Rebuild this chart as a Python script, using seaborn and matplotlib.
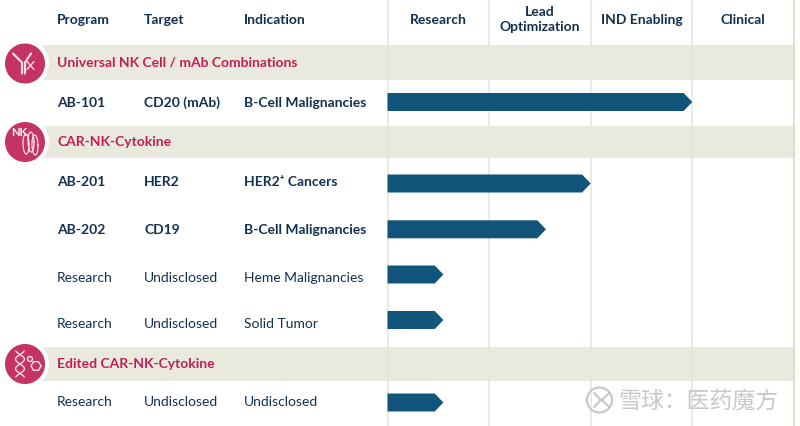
import numpy as np
import pandas as pd
import seaborn as sns
import matplotlib.pyplot as plt
from matplotlib.patches import Polygon

# Pipeline data
programs = ["AB-101", "AB-201", "AB-202", "Research", "Research", "Research"]
targets = ["CD20 (mAb)", "HER2", "CD19", "Undisclosed", "Undisclosed", "Undisclosed"]
indications = ["B-Cell Malignancies", "HER2⁺ Cancers", "B-Cell Malignancies",
               "Heme Malignancies", "Solid Tumor", "Undisclosed"]
progress = [3.0, 2.0, 1.56, 0.55, 0.55, 0.55]  # in stages
is_lead = [True, True, True, False, False, False]

groups = ["Universal NK Cell / mAb Combinations", "CAR-NK-Cytokine", "Edited CAR-NK-Cytokine"]
stages = ["Research", "Lead\nOptimization", "IND Enabling", "Clinical"]
columns = ["Program", "Target", "Indication"]

# Layout, in pixels
bar_y = [102, 183.5, 229.3, 274.5, 320, 402.5]
text_y = [103, 181.5, 229.5, 278, 324, 402]
band_y = [(45, 80), (125.5, 158), (347, 381)]
circle_y = [63.5, 142, 364]
col_x = [57, 144, 244]
x0, stage_w = 387.5, 101.6
tip = 0.085
navy = "#12304f"
red = "#c01f56"
band = "#eae9de"
line = "#e9e6d8"
blue = "#11567a"

sns.set_theme(style="white")
plt.rcParams["font.family"] = ["Lato", "Noto Sans CJK SC", "DejaVu Sans"]

fig = plt.figure(figsize=(8, 4.26), dpi=100)
ax = fig.add_axes([0, 0, 1, 1])


def px(x):
    return (x - x0) / stage_w


df = pd.DataFrame({"y": bar_y, "progress": progress})
sns.barplot(data=df, x="progress", y="y", orient="h", native_scale=True,
            width=0.4, color=blue, saturation=1, ax=ax, zorder=4)

# Turn each bar into an arrow shape
for bar in list(ax.patches):
    end = bar.get_width()
    y = bar.get_y() + bar.get_height() / 2
    ax.add_patch(Polygon([(0, y - 9), (end - tip, y - 9), (end, y), (end - tip, y + 9), (0, y + 9)],
                         fc=blue, ec="none", zorder=4))
    bar.remove()

ax.set_xlim(px(0), px(800))
ax.set_ylim(426, 0)
ax.axis("off")

# Bands and stage lines
for top, bottom in band_y:
    ax.fill_between([px(43), px(795)], top, bottom, color=band, lw=0, zorder=1)
for s in range(5):
    ax.axvline(s, color="#dcd8c4" if s == 4 else line, lw=1.3, alpha=0.9, zorder=2)

# Header
for x, c in zip(col_x, columns):
    ax.text(px(x), 20, c, color=navy, fontsize=10, fontweight="bold", va="center", zorder=5)
for i, s in enumerate(stages):
    ax.text(i + 0.5, 19.5 if i == 1 else 20, s, color=navy, fontsize=10, fontweight="bold",
            ha="center", va="center", linespacing=1.28, zorder=5)

# Rows
for i in range(6):
    w = "bold" if is_lead[i] else "normal"
    for x, t in zip(col_x, [programs[i], targets[i], indications[i]]):
        ax.text(px(x), text_y[i], t, color=navy, fontsize=10, fontweight=w, va="center", zorder=5)

# Groups with round icons
for g, (top, bottom) in zip(groups, band_y):
    ax.text(px(57), (top + bottom) / 2, g, color=red, fontsize=10, fontweight="bold", va="center", zorder=5)


def circle_at(cx, cy, r, **kw):
    t = np.linspace(0, 2 * np.pi, 80)
    ax.fill(px(cx + r * np.cos(t)), cy + r * np.sin(t), lw=0, **kw)


for cy in circle_y:
    circle_at(25, cy, 24, color="white", zorder=6)
    circle_at(25, cy, 20, color="#c43362", zorder=7)


def stroke(xs, ys, lw=1.2):
    ax.plot(px(np.array(xs, dtype=float)), ys, color="#f6dfe6", lw=lw, zorder=8, solid_capstyle="round")


# Antibody icon
cy = circle_y[0]
stroke([13, 22, 22], [cy - 10, cy - 1, cy + 10], 1.6)
stroke([31, 25, 25], [cy - 10, cy - 1, cy + 10], 1.6)
stroke([27, 34], [cy + 6, cy - 2], 1)
stroke([27, 34], [cy - 2, cy + 6], 1)
# NK icon
cy = circle_y[1]
ax.text(px(19), cy - 9, "NK", color="white", fontsize=8, fontweight="bold", ha="center", va="center", zorder=8)
for dx, dy in [(26, 2), (31, 0), (35, 3)]:
    t = np.linspace(0, 2 * np.pi, 40)
    stroke(dx + 3 * np.cos(t) + 0.3 * np.sin(t), cy + dy + 10 * np.sin(t), 0.9)
# DNA icon
cy = circle_y[2]
yy = np.linspace(cy - 13, cy + 13, 40)
stroke(20 + 4.5 * np.sin((yy - cy) / 3), yy, 1)
stroke(20 - 4.5 * np.sin((yy - cy) / 3), yy, 1)
t = np.linspace(0, 2 * np.pi, 7)
stroke(36 + 5 * np.cos(t), cy + 2 + 5 * np.sin(t), 1)
t = np.linspace(0, 2 * np.pi, 20)
stroke(30 + 2.5 * np.cos(t), cy - 5 + 2.5 * np.sin(t), 1)

# Watermark
t = np.linspace(0, 2 * np.pi, 60)
wm = dict(color="#c8c8c8", lw=1.6, zorder=9)
ax.plot(px(599.5 + 12.5 * np.cos(t)), 400 + 12.5 * np.sin(t), **wm)
ax.plot(px(np.array([594.0, 601, 594])), [393, 400, 407], **wm)
ax.plot(px(np.array([609.0, 602, 609])), [393, 400, 407], **wm)
ax.text(px(618), 401, "雪球：医药魔方", color="#c8c8c8", fontsize=16.5,
        family=["Noto Sans CJK SC", "DejaVu Sans"], va="center", zorder=9)

fig.savefig("out.png", dpi=100)
